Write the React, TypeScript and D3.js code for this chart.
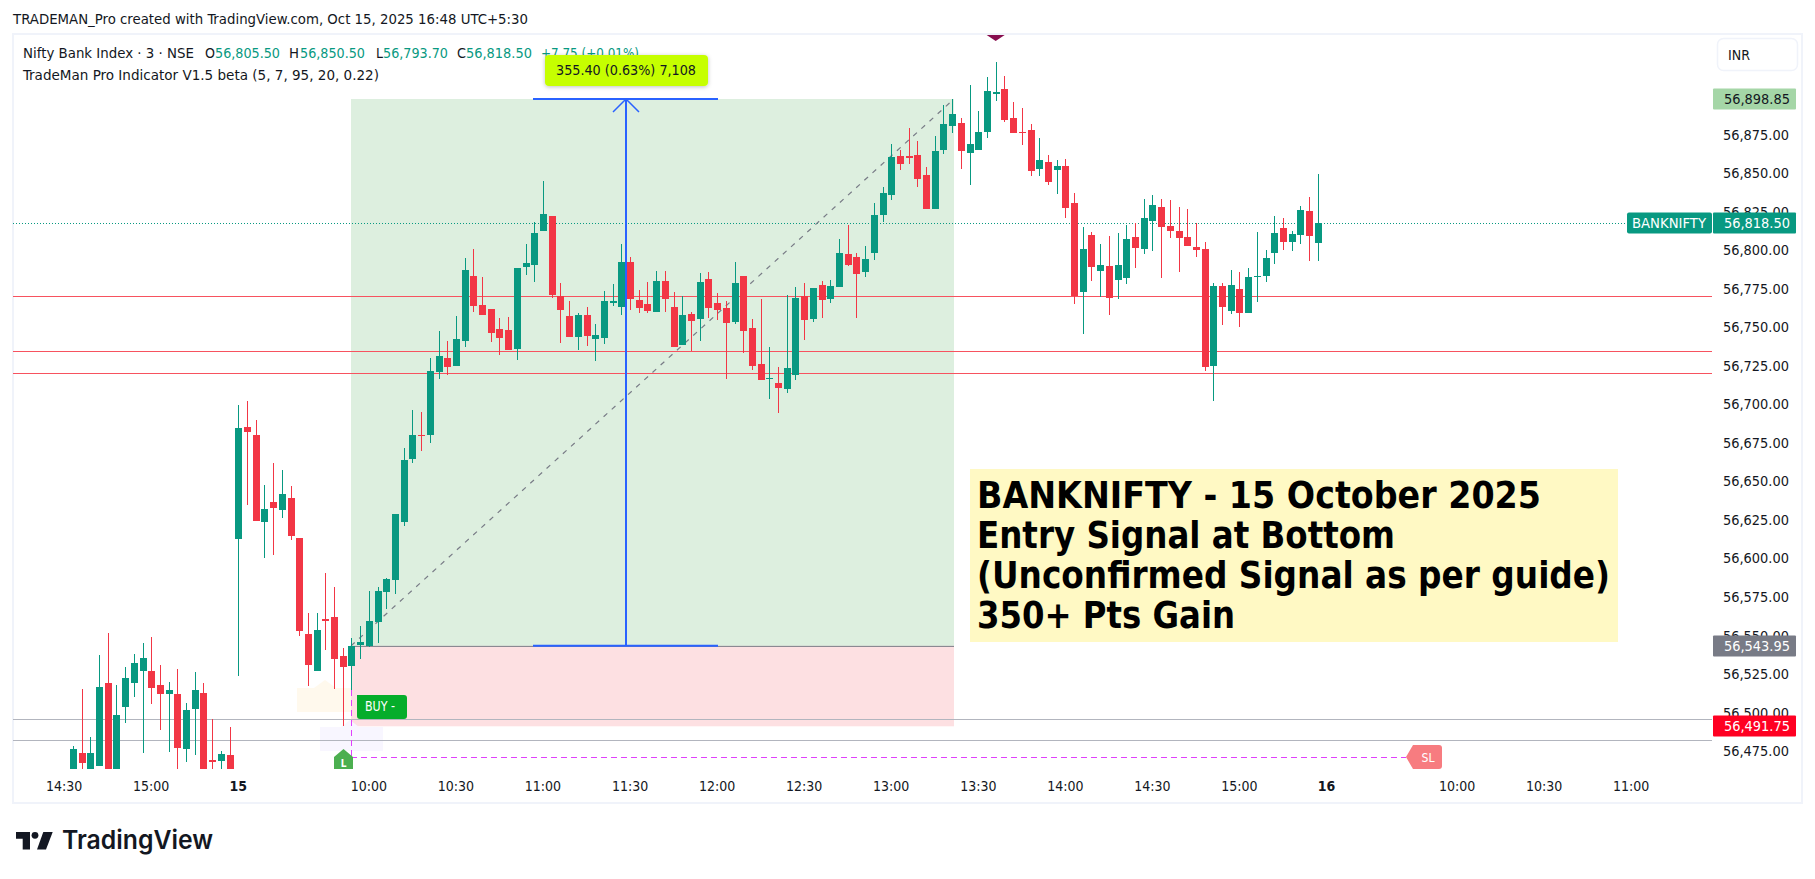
import React from "react";
import { format, range, scaleLinear } from "d3";

// 3 min candles, first bar is 14:33 the day before, index 19 = 09:15 on the 15th
const opens = [
  56460.2, 56474.5, 56461.3, 56466.0, 56519.9, 56460.2, 56504.3, 56519.9, 56527.7, 56527.7,
  56518.6, 56512.7, 56512.7, 56477.1, 56503.0, 56513.4, 56469.9, 56469.3, 56473.2, 56613.3,
  56686.0, 56680.8, 56624.4, 56637.3, 56632.1, 56639.9, 56614.0, 56551.7, 56527.7, 56561.4,
  56562.7, 56537.4, 56530.9, 56544.5, 56543.9, 56559.5, 56578.9, 56586.7, 56624.4, 56665.2,
  56680.8, 56680.9, 56721.7, 56730.8, 56725.6, 56741.8, 56784.0, 56765.2, 56762.6, 56749.6,
  56749.0, 56736.7, 56789.9, 56791.2, 56813.2, 56823.0, 56771.0, 56758.1, 56744.4, 56758.7,
  56743.1, 56743.8, 56766.5, 56763.9, 56793.1, 56768.5, 56765.9, 56760.7, 56780.8, 56763.9,
  56739.3, 56759.4, 56756.1, 56782.1, 56766.5, 56763.3, 56754.2, 56784.0, 56750.3, 56726.9,
  56717.2, 56714.6, 56710.7, 56719.8, 56771.0, 56756.1, 56778.2, 56769.1, 56776.9, 56798.3,
  56796.4, 56786.6, 56798.9, 56823.6, 56836.5, 56861.8, 56861.8, 56862.5, 56849.5, 56827.5,
  56865.7, 56881.3, 56883.3, 56863.8, 56865.7, 56877.4, 56902.1, 56905.3, 56886.5, 56877.4,
  56878.7, 56853.4, 56858.0, 56852.8, 56855.4, 56831.4, 56773.6, 56810.6, 56787.3, 56790.5,
  56781.4, 56782.7, 56809.3, 56801.5, 56819.7, 56828.8, 56816.5, 56813.2, 56809.3, 56802.8,
  56801.5, 56725.6, 56777.5, 56761.3, 56775.6, 56760.0, 56783.4, 56784.0, 56799.0, 56815.2,
  56806.1, 56810.6, 56826.2, 56805.5,
];
const highs = [
  56479.0, 56516.0, 56484.8, 56538.1, 56552.3, 56518.6, 56530.3, 56538.7, 56545.8, 56549.7,
  56531.6, 56520.5, 56529.0, 56506.9, 56527.0, 56519.9, 56496.5, 56475.8, 56491.3, 56700.3,
  56702.9, 56690.5, 56648.4, 56662.6, 56658.1, 56647.7, 56614.0, 56565.3, 56565.3, 56591.3,
  56582.2, 56542.6, 56549.1, 56556.9, 56579.6, 56582.2, 56588.0, 56629.5, 56672.2, 56697.0,
  56695.7, 56730.8, 56748.3, 56741.8, 56758.1, 56795.7, 56801.5, 56783.4, 56762.6, 56756.8,
  56757.4, 56789.2, 56804.8, 56819.1, 56845.7, 56823.0, 56779.5, 56767.8, 56760.0, 56763.9,
  56752.9, 56774.3, 56778.8, 56804.8, 56796.4, 56774.9, 56780.1, 56787.3, 56787.3, 56773.6,
  56771.0, 56760.7, 56786.0, 56786.6, 56773.0, 56767.8, 56793.1, 56784.0, 56756.1, 56769.1,
  56738.0, 56725.0, 56771.7, 56776.9, 56779.5, 56776.2, 56780.8, 56781.4, 56808.0, 56817.1,
  56799.0, 56803.5, 56831.4, 56841.7, 56869.6, 56865.7, 56880.0, 56871.6, 56854.7, 56874.8,
  56894.9, 56898.8, 56886.5, 56907.9, 56891.0, 56913.1, 56922.8, 56913.8, 56896.9, 56893.0,
  56882.6, 56873.5, 56862.5, 56859.3, 56859.9, 56837.9, 56815.8, 56812.6, 56804.8, 56810.0,
  56811.9, 56817.1, 56818.4, 56834.0, 56836.6, 56834.0, 56833.3, 56828.8, 56827.5, 56818.4,
  56806.1, 56779.5, 56779.5, 56787.9, 56786.6, 56789.2, 56812.6, 56800.9, 56823.0, 56821.7,
  56813.2, 56829.5, 56835.3, 56850.5,
];
const lows = [
  56458.0, 56461.3, 56459.1, 56466.0, 56454.8, 56458.0, 56493.9, 56510.8, 56474.5, 56506.3,
  56489.4, 56475.1, 56462.3, 56468.6, 56473.2, 56456.9, 56462.3, 56462.3, 56459.1, 56524.4,
  56635.4, 56625.0, 56601.0, 56602.9, 56627.0, 56612.7, 56550.4, 56517.9, 56527.7, 56541.3,
  56516.0, 56491.75, 56515.3, 56535.5, 56543.5, 56545.8, 56567.9, 56577.6, 56621.8, 56662.6,
  56670.4, 56675.7, 56717.2, 56719.8, 56725.6, 56738.0, 56760.7, 56758.7, 56741.2, 56732.8,
  56736.0, 56729.5, 56784.7, 56780.1, 56813.2, 56769.8, 56740.5, 56744.4, 56736.0, 56738.6,
  56728.9, 56739.9, 56764.6, 56758.7, 56762.0, 56760.0, 56760.0, 56760.7, 56760.7, 56738.0,
  56739.3, 56735.1, 56741.8, 56756.8, 56755.5, 56717.2, 56752.9, 56734.1, 56723.0, 56716.5,
  56704.2, 56695.1, 56708.1, 56716.5, 56742.5, 56754.2, 56756.8, 56766.5, 56776.9, 56790.5,
  56756.8, 56783.4, 56794.4, 56819.0, 56833.3, 56852.8, 56856.7, 56841.7, 56827.5, 56827.5,
  56863.1, 56876.8, 56853.4, 56843.0, 56865.7, 56873.5, 56897.5, 56883.9, 56876.8, 56869.0,
  56848.9, 56848.9, 56843.0, 56837.2, 56821.6, 56765.9, 56746.4, 56780.8, 56770.6, 56758.7,
  56769.1, 56778.8, 56789.2, 56798.3, 56800.2, 56782.7, 56808.7, 56786.6, 56803.5, 56796.4,
  56722.4, 56702.9, 56752.2, 56759.4, 56750.9, 56760.0, 56767.2, 56780.1, 56791.8, 56800.9,
  56800.2, 56804.8, 56793.8, 56793.7,
];
const closes = [
  56477.1, 56468.0, 56474.5, 56517.3, 56456.9, 56499.1, 56523.1, 56532.9, 56536.1, 56516.6,
  56512.7, 56515.3, 56477.7, 56502.4, 56515.3, 56459.1, 56468.6, 56473.8, 56460.2, 56685.4,
  56682.8, 56625.0, 56632.8, 56633.4, 56642.5, 56615.3, 56553.6, 56531.6, 56554.3, 56560.1,
  56535.5, 56530.3, 56543.95, 56546.5, 56560.1, 56579.6, 56587.4, 56629.5, 56664.6, 56680.8,
  56680.2, 56722.4, 56732.1, 56725.0, 56743.1, 56787.9, 56764.6, 56758.7, 56747.0, 56743.8,
  56736.0, 56789.2, 56792.5, 56811.9, 56824.3, 56771.7, 56762.0, 56744.4, 56758.7, 56745.1,
  56745.7, 56767.8, 56767.8, 56793.1, 56769.1, 56763.3, 56761.3, 56780.8, 56769.1, 56738.0,
  56758.7, 56754.8, 56780.1, 56763.3, 56762.0, 56753.5, 56779.5, 56748.3, 56725.6, 56716.5,
  56717.8, 56711.3, 56724.3, 56769.8, 56755.5, 56776.2, 56768.5, 56777.5, 56799.0, 56791.2,
  56785.3, 56795.1, 56823.6, 56837.8, 56861.2, 56856.7, 56860.6, 56846.9, 56827.5, 56865.1,
  56882.6, 56889.1, 56865.1, 56869.6, 56877.4, 56904.0, 56903.4, 56885.2, 56876.8, 56876.8,
  56852.1, 56859.3, 56845.0, 56855.4, 56828.1, 56771.0, 56801.5, 56789.9, 56791.2, 56769.8,
  56791.2, 56808.0, 56802.2, 56821.7, 56830.1, 56815.8, 56813.2, 56808.7, 56803.5, 56800.9,
  56725.0, 56777.5, 56763.9, 56778.2, 56760.0, 56783.4, 56784.0, 56795.7, 56811.9, 56806.1,
  56811.3, 56826.9, 56810.0, 56818.5,
];

const redLevels = [56770.8, 56735.1, 56720.85];
const grayLevels = [56496.3, 56482.7];
const targetPrice = 56898.85;
const entryPrice = 56543.95;
const stopPrice = 56491.75;
const lastPrice = 56818.5;
const priceTicks = range(56475, 56901, 25);
const timeLabels = [
  { i: -1, label: "14:30" }, { i: 9, label: "15:00" }, { i: 19, label: "15", bold: true },
  { i: 34, label: "10:00" }, { i: 44, label: "10:30" }, { i: 54, label: "11:00" },
  { i: 64, label: "11:30" }, { i: 74, label: "12:00" }, { i: 84, label: "12:30" },
  { i: 94, label: "13:00" }, { i: 104, label: "13:30" }, { i: 114, label: "14:00" },
  { i: 124, label: "14:30" }, { i: 134, label: "15:00" }, { i: 144, label: "16", bold: true },
  { i: 159, label: "10:00" }, { i: 169, label: "10:30" }, { i: 179, label: "11:00" },
];
const noteLines = [
  { text: "BANKNIFTY - 15 October 2025", w: 564 },
  { text: "Entry Signal at Bottom", w: 418 },
  { text: "(Unconfirmed Signal as per guide)", w: 633 },
  { text: "350+ Pts Gain", w: 258 },
];

const GREEN = "#089981";
const RED = "#f23645";
const INK = "#131722";
const BLUE = "#2962ff";
const FONT = "'DejaVu Sans Condensed', 'DejaVu Sans', sans-serif";

const width = 1815;
const height = 879;
const paneLeft = 13;
const paneRight = 1712;
const paneTop = 34;
const paneBottom = 769;

const x = scaleLinear().domain([19, 144]).range([238.3, 1326.5]);
const y = scaleLinear().domain([targetPrice, stopPrice]).range([99, 726.3]);
const fmt = format(",.2f");

const T = ({ x, y, w, children, fill = INK, size = 14, anchor = "start", bold = false }: any) => (
  <text
    x={x}
    y={y}
    fill={fill}
    fontSize={size}
    fontFamily={FONT}
    fontWeight={bold ? 700 : 400}
    textAnchor={anchor}
    textLength={w}
    lengthAdjust={w ? "spacingAndGlyphs" : undefined}
  >
    {children}
  </text>
);

const PriceTag = ({ price, fill, color = "#fff" }: any) => {
  const cy = Math.round(y(price));
  return (
    <g>
      <rect x={1713} y={cy - 10.5} width={83} height={21} rx={1} fill={fill} />
      <T x={1724} y={cy + 5} w={66} fill={color}>{fmt(price)}</T>
    </g>
  );
};

const App = () => {
  const top = y(targetPrice);
  const entry = y(entryPrice);
  const stop = y(stopPrice);
  const left = 351;
  const right = 954;
  const mid = 626;
  const idxMark = x(106);

  return (
    <svg
      width={width}
      height={height}
      style={{ position: "absolute", left: 0, top: 0, background: "#fff" }}
    >
      <defs>
        <clipPath id="pane">
          <rect x={paneLeft} y={paneTop} width={paneRight - paneLeft} height={paneBottom - paneTop} />
        </clipPath>
        <filter id="soft" x="-20%" y="-30%" width="140%" height="170%">
          <feDropShadow dx={0} dy={1} stdDeviation={2} floodColor="#000" floodOpacity={0.25} />
        </filter>
      </defs>

      <T x={13} y={24} w={515}>TRADEMAN_Pro created with TradingView.com, Oct 15, 2025 16:48 UTC+5:30</T>
      <rect x={13} y={34} width={1789} height={769} fill="none" stroke="#f0f3fa" strokeWidth={2} />

      <g clipPath="url(#pane)">
        {/* position tool */}
        <rect x={left} y={top} width={right - left} height={entry - top} fill="#ddefdf" />
        <rect x={left} y={entry} width={right - left} height={stop - entry} fill="#fde0e2" />
        <line x1={left} x2={right} y1={entry + 0.5} y2={entry + 0.5} stroke="#787b86" />

        {/* soft boxes behind the signal */}
        <path d="M297 688h17l11-8 11 8h15v24h-54z" fill="#fff9ed" />
        <path d="M320 727h21l9-7 9 7h24v24h-63z" fill="#f8f6ff" />

        {redLevels.map((p) => (
          <line key={p} x1={paneLeft} x2={paneRight} y1={Math.round(y(p)) + 0.5} y2={Math.round(y(p)) + 0.5} stroke="#f7525f" />
        ))}
        {grayLevels.map((p) => (
          <line key={p} x1={paneLeft} x2={paneRight} y1={Math.round(y(p)) + 0.5} y2={Math.round(y(p)) + 0.5} stroke="#b2b5be" />
        ))}
        <line
          x1={paneLeft}
          x2={1627}
          y1={Math.round(y(lastPrice)) + 0.5}
          y2={Math.round(y(lastPrice)) + 0.5}
          stroke={GREEN}
          strokeDasharray="1 2"
        />
        <line x1={left} y1={entry} x2={right} y2={top} stroke="#787b86" strokeWidth={1.2} strokeDasharray="5 6" />

        {/* stop line and marker */}
        <line x1={351.5} x2={351.5} y1={690} y2={757} stroke="#e040fb" strokeDasharray="6 4" />
        <line x1={351} x2={1406} y1={757.5} y2={757.5} stroke="#e040fb" strokeDasharray="6 4" />

        {/* candles */}
        {opens.map((o, i) => {
          const c = closes[i];
          const cx = Math.round(x(i));
          const fill = c >= o ? GREEN : RED;
          const wickTop = Math.round(y(highs[i]));
          const wickBottom = Math.round(y(lows[i]));
          const bodyTop = Math.round(y(Math.max(o, c)));
          const bodyBottom = Math.round(y(Math.min(o, c)));
          return (
            <g key={i} fill={fill}>
              <rect x={cx} y={wickTop} width={1} height={wickBottom - wickTop} />
              <rect x={cx - 3} y={bodyTop} width={7} height={Math.max(bodyBottom - bodyTop, 1)} />
            </g>
          );
        })}

        {/* measure arrow */}
        <line x1={mid} x2={mid} y1={top} y2={entry} stroke={BLUE} strokeWidth={2} />
        <path d={`M${mid - 13} ${top + 13}L${mid} ${top}L${mid + 13} ${top + 13}`} fill="none" stroke={BLUE} strokeWidth={1.5} />
        <line x1={533} x2={718} y1={top} y2={top} stroke={BLUE} strokeWidth={2} />
        <line x1={533} x2={718} y1={entry} y2={entry} stroke={BLUE} strokeWidth={2} />

        {/* buy marker */}
        <path d="M351 689l6 6h47a3 3 0 0 1 3 3v18a3 3 0 0 1-3 3h-44a3 3 0 0 1-3-3v-21z" fill="#05ad2b" />
        <T x={365} y={711} w={30} fill="#fff" size={14}>BUY -</T>
        <path d="M334 769v-12l9.500-8 9.500 8v12z" fill="#4caf50" />
        <T x={343.5} y={767} fill="#fff" size={10} anchor="middle" bold>L</T>

        <path d="M1406 757l7-12h26a3 3 0 0 1 3 3v18a3 3 0 0 1-3 3h-26z" fill="#f77c80" />
        <T x={1428} y={762} w={13} fill="#fff" size={13} anchor="middle">SL</T>

        {/* sell marker on the top border */}
        <path d={`M${idxMark - 9} 35H${idxMark + 9}L${idxMark} 41z`} fill="#880e4f" />
      </g>

      {/* note */}
      <rect x={970} y={469} width={648} height={173} fill="#fff9c4" />
      {noteLines.map((l, i) => (
        <T key={l.text} x={977} y={508 + i * 40} w={l.w} size={38} fill="#000" bold>{l.text}</T>
      ))}

      {/* legend */}
      <T x={23} y={58} w={171}>Nifty Bank Index · 3 · NSE</T>
      <T x={205} y={58} w={10}>O</T>
      <T x={215} y={58} w={65} fill={GREEN}>56,805.50</T>
      <T x={289} y={58} w={10}>H</T>
      <T x={300} y={58} w={65} fill={GREEN}>56,850.50</T>
      <T x={376} y={58} w={7}>L</T>
      <T x={383} y={58} w={65} fill={GREEN}>56,793.70</T>
      <T x={457} y={58} w={9}>C</T>
      <T x={466} y={58} w={66} fill={GREEN}>56,818.50</T>
      <T x={541} y={58} w={98} fill={GREEN}>+7.75 (+0.01%)</T>
      <T x={23} y={80} w={356}>TradeMan Pro Indicator V1.5 beta (5, 7, 95, 20, 0.22)</T>

      <rect x={545} y={55} width={163} height={31} rx={4} fill="#c6ff00" filter="url(#soft)" />
      <T x={556} y={75} w={140}>355.40 (0.63%) 7,108</T>

      {/* price axis */}
      {priceTicks.map((p) => (
        <T key={p} x={1723} y={y(p) + 4} w={66}>{fmt(p)}</T>
      ))}
      <PriceTag price={targetPrice} fill="#a5d6a7" color={INK} />
      <PriceTag price={lastPrice} fill={GREEN} />
      <PriceTag price={entryPrice} fill="#787b86" />
      <PriceTag price={stopPrice} fill="#ff0022" />
      <rect x={1627} y={Math.round(y(lastPrice)) - 10.5} width={85} height={21} rx={2} fill={GREEN} />
      <T x={1632} y={Math.round(y(lastPrice)) + 5} w={74} fill="#fff">BANKNIFTY</T>

      <rect x={1717.5} y={38.5} width={80} height={32} rx={6} fill="#fff" stroke="#f0f3fa" strokeWidth={1.5} />
      <T x={1728} y={60} w={22}>INR</T>

      {/* time axis */}
      {timeLabels.map((t) => (
        <T key={t.i} x={x(t.i)} y={791} anchor="middle" bold={t.bold}>{t.label}</T>
      ))}

      {/* logo */}
      <g fill="#131722">
        <path d="M16 832H30V849.500H22.700V838.700H16z" />
        <circle cx={35} cy={835.300} r={3.400} />
        <path d="M43.300 832H52.700L46 849.500H37z" />
        <text x={62} y={849} fontSize={26} fontWeight={600} fontFamily="Inter, sans-serif" textLength={151} lengthAdjust="spacingAndGlyphs">
          TradingView
        </text>
      </g>
    </svg>
  );
};

export default App;
